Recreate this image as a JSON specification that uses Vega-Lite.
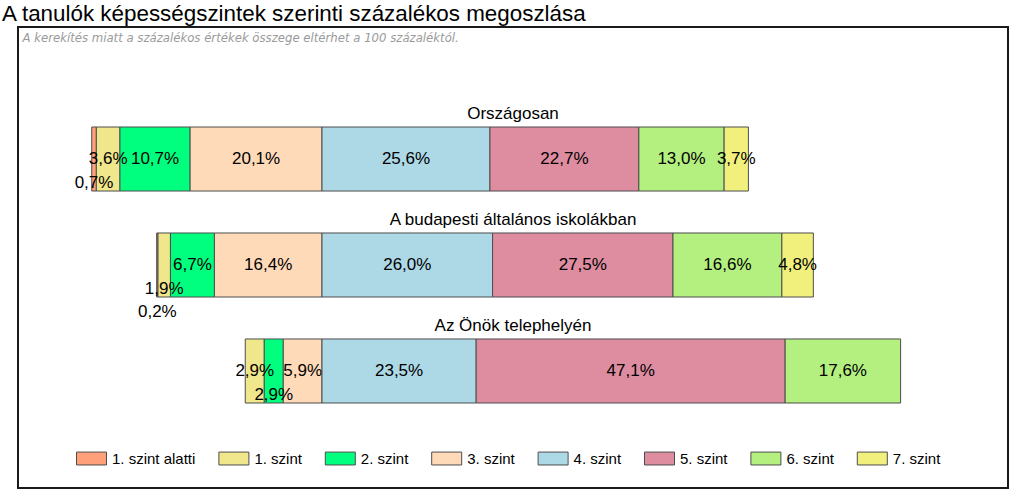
{
  "$schema": "https://vega.github.io/schema/vega-lite/v6.json",
  "width": 990,
  "height": 461,
  "autosize": "none",
  "padding": {"left": 18, "top": 27, "right": 16, "bottom": 13},
  "background": "white",
  "config": {
    "view": {"stroke": "#1a1a1a", "strokeWidth": 2},
    "font": "Liberation Sans",
    "locale": {"number": {"decimal": ",", "thousands": " ", "grouping": [3], "currency": ["", "%"]}}
  },
  "title": {
    "text": "A tanulók képességszintek szerinti százalékos megoszlása",
    "anchor": "start",
    "frame": "group",
    "dx": -16,
    "offset": -16,
    "baseline": "alphabetic",
    "fontSize": 22.4,
    "fontWeight": "normal",
    "color": "#000000",
    "font": "Liberation Sans"
  },
  "data": {
    "values": [
      {"group": "Országosan", "level": "1. szint alatti", "rank": 0, "value": 0.7, "lane": 1},
      {"group": "Országosan", "level": "1. szint", "rank": 1, "value": 3.6, "lane": 0},
      {"group": "Országosan", "level": "2. szint", "rank": 2, "value": 10.7, "lane": 0},
      {"group": "Országosan", "level": "3. szint", "rank": 3, "value": 20.1, "lane": 0},
      {"group": "Országosan", "level": "4. szint", "rank": 4, "value": 25.6, "lane": 0},
      {"group": "Országosan", "level": "5. szint", "rank": 5, "value": 22.7, "lane": 0},
      {"group": "Országosan", "level": "6. szint", "rank": 6, "value": 13.0, "lane": 0},
      {"group": "Országosan", "level": "7. szint", "rank": 7, "value": 3.7, "lane": 0},
      {"group": "A budapesti általános iskolákban", "level": "1. szint alatti", "rank": 0, "value": 0.2, "lane": 2},
      {"group": "A budapesti általános iskolákban", "level": "1. szint", "rank": 1, "value": 1.9, "lane": 1},
      {"group": "A budapesti általános iskolákban", "level": "2. szint", "rank": 2, "value": 6.7, "lane": 0},
      {"group": "A budapesti általános iskolákban", "level": "3. szint", "rank": 3, "value": 16.4, "lane": 0},
      {"group": "A budapesti általános iskolákban", "level": "4. szint", "rank": 4, "value": 26.0, "lane": 0},
      {"group": "A budapesti általános iskolákban", "level": "5. szint", "rank": 5, "value": 27.5, "lane": 0},
      {"group": "A budapesti általános iskolákban", "level": "6. szint", "rank": 6, "value": 16.6, "lane": 0},
      {"group": "A budapesti általános iskolákban", "level": "7. szint", "rank": 7, "value": 4.8, "lane": 0},
      {"group": "Az Önök telephelyén", "level": "1. szint", "rank": 1, "value": 2.9, "lane": 0},
      {"group": "Az Önök telephelyén", "level": "2. szint", "rank": 2, "value": 2.9, "lane": 1},
      {"group": "Az Önök telephelyén", "level": "3. szint", "rank": 3, "value": 5.9, "lane": 0},
      {"group": "Az Önök telephelyén", "level": "4. szint", "rank": 4, "value": 23.5, "lane": 0},
      {"group": "Az Önök telephelyén", "level": "5. szint", "rank": 5, "value": 47.1, "lane": 0},
      {"group": "Az Önök telephelyén", "level": "6. szint", "rank": 6, "value": 17.6, "lane": 0}
    ]
  },
  "encoding": {
    "y": {
      "field": "group",
      "type": "nominal",
      "sort": ["Országosan", "A budapesti általános iskolákban", "Az Önök telephelyén"],
      "axis": null,
      "scale": {"range": [100, 376], "paddingInner": 0.396, "paddingOuter": 0}
    }
  },
  "layer": [
    {
      "transform": [{"filter": "datum.rank <= 3"}],
      "encoding": {
        "x": {
          "field": "value",
          "type": "quantitative",
          "stack": "zero",
          "scale": {"domain": [0, 46.34], "range": [304, 0], "nice": false, "zero": true},
          "axis": {
            "orient": "top",
            "domain": false,
            "ticks": false,
            "labels": false,
            "grid": false,
            "title": "A kerekítés miatt a százalékos értékek összege eltérhet a 100 százaléktól.",
            "titleAnchor": "start",
            "titleAlign": "left",
            "titleBaseline": "alphabetic",
            "titleX": 4,
            "titleY": 14,
            "titleFont": "DejaVu Sans",
            "titleFontStyle": "italic",
            "titleFontWeight": "normal",
            "titleFontSize": 11.7,
            "titleColor": "#9a9a9a"
          }
        },
        "order": {"field": "rank", "type": "quantitative", "sort": "descending"},
        "detail": {"field": "level"}
      },
      "layer": [
        {
          "mark": {"type": "bar", "stroke": "#4d4d4d", "strokeWidth": 1},
          "encoding": {
            "color": {
              "field": "level",
              "type": "nominal",
              "scale": {
                "domain": ["1. szint alatti", "1. szint", "2. szint", "3. szint", "4. szint", "5. szint", "6. szint", "7. szint"],
                "range": ["#FFA07A", "#F0E68C", "#00FF7F", "#FFDAB9", "#ADD8E6", "#DE8CA0", "#B4F080", "#F2F07D"]
              },
              "legend": {
                "title": null,
                "orient": "none",
                "direction": "horizontal",
                "legendX": 58,
                "legendY": 416,
                "symbolType": "M-1,-0.43L1,-0.43L1,0.43L-1,0.43Z",
                "symbolSize": 900,
                "symbolStrokeColor": "#555555",
                "symbolStrokeWidth": 1,
                "symbolOpacity": 1,
                "labelFont": "Liberation Sans",
                "labelFontSize": 15,
                "labelColor": "#000000",
                "labelOffset": 5,
                "columnPadding": 20.4,
                "padding": 0
              }
            }
          }
        },
        {
          "mark": {"type": "text", "fontSize": 17, "color": "#000000", "font": "Liberation Sans"},
          "encoding": {
            "x": {"field": "value", "type": "quantitative", "stack": "zero", "bandPosition": 0.5},
            "text": {"condition": {"test": "datum.lane == 0", "field": "value", "type": "quantitative", "format": "$.1f"}, "value": ""}
          }
        },
        {
          "mark": {"type": "text", "fontSize": 17, "color": "#000000", "font": "Liberation Sans", "dy": 24},
          "encoding": {
            "x": {"field": "value", "type": "quantitative", "stack": "zero", "bandPosition": 0.5},
            "text": {"condition": {"test": "datum.lane == 1", "field": "value", "type": "quantitative", "format": "$.1f"}, "value": ""}
          }
        },
        {
          "mark": {"type": "text", "fontSize": 17, "color": "#000000", "font": "Liberation Sans", "dy": 47},
          "encoding": {
            "x": {"field": "value", "type": "quantitative", "stack": "zero", "bandPosition": 0.5},
            "text": {"condition": {"test": "datum.lane == 2", "field": "value", "type": "quantitative", "format": "$.1f"}, "value": ""}
          }
        }
      ]
    },
    {
      "transform": [{"filter": "datum.rank >= 4"}],
      "encoding": {
        "x": {
          "field": "value",
          "type": "quantitative",
          "stack": "zero",
          "scale": {"domain": [0, 104.57], "range": [304, 990], "nice": false, "zero": true},
          "axis": null
        },
        "order": {"field": "rank", "type": "quantitative", "sort": "ascending"},
        "detail": {"field": "level"}
      },
      "layer": [
        {
          "mark": {"type": "bar", "stroke": "#4d4d4d", "strokeWidth": 1},
          "encoding": {
            "color": {"field": "level", "type": "nominal"}
          }
        },
        {
          "mark": {"type": "text", "fontSize": 17, "color": "#000000", "font": "Liberation Sans"},
          "encoding": {
            "x": {"field": "value", "type": "quantitative", "stack": "zero", "bandPosition": 0.5},
            "text": {"field": "value", "type": "quantitative", "format": "$.1f"}
          }
        }
      ]
    },
    {
      "transform": [{"filter": "datum.rank == 4"}],
      "mark": {"type": "text", "fontSize": 17, "color": "#000000", "font": "Liberation Sans", "baseline": "alphabetic", "align": "center", "dy": -8},
      "encoding": {
        "x": {"value": {"expr": "width / 2"}},
        "y": {"field": "group", "type": "nominal", "sort": ["Országosan", "A budapesti általános iskolákban", "Az Önök telephelyén"], "bandPosition": 0},
        "text": {"field": "group", "type": "nominal"}
      }
    }
  ],
  "resolve": {"scale": {"x": "independent"}, "axis": {"x": "independent"}}
}
